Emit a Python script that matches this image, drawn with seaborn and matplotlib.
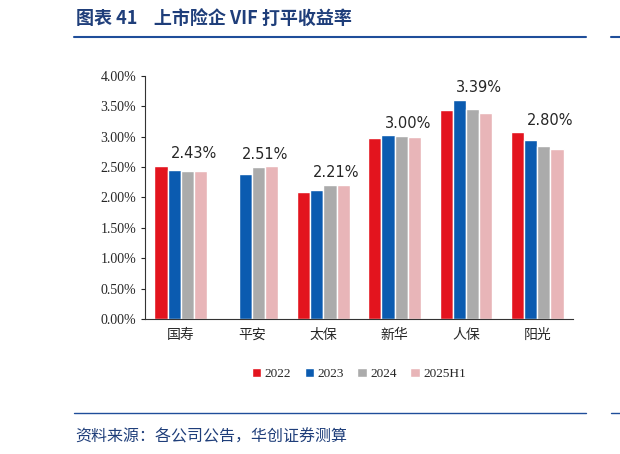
import numpy as np
import pandas as pd
import matplotlib
matplotlib.use("Agg")
import matplotlib.pyplot as plt
import seaborn as sns
from matplotlib.ticker import FuncFormatter

sns.set_style("white")
plt.rcParams['font.family'] = ['Liberation Serif', 'Noto Sans CJK SC']

companies = ["国寿", "平安", "太保", "新华", "人保", "阳光"]
years = ["2022", "2023", "2024", "2025H1"]
v2022 = [2.52, np.nan, 2.09, 2.97, 3.44, 3.07]
v2023 = [2.45, 2.38, 2.12, 3.02, 3.61, 2.95]
v2024 = [2.44, 2.50, 2.20, 3.01, 3.45, 2.85]
v2025 = [2.43, 2.51, 2.21, 3.00, 3.39, 2.80]
colors = ["#E3141E", "#0B5BB0", "#ABABAB", "#E8B5B8"]

rows = []
for y, vals in zip(years, [v2022, v2023, v2024, v2025]):
    for c, v in zip(companies, vals):
        rows.append({"公司": c, "年份": y, "值": v})
df = pd.DataFrame(rows)

fig = plt.figure(figsize=(6.2, 4.54), dpi=100)
ax = fig.add_axes([0.234, 0.297, 0.69, 0.536])
sns.barplot(data=df, x="公司", y="值", hue="年份", palette=colors, ax=ax,
            width=0.74, saturation=1, legend=True)
ax.set_ylim(0, 4.0)
ax.set_yticks(np.arange(0, 4.01, 0.5))
ax.yaxis.set_major_formatter(FuncFormatter(lambda v, p: f"{v:.2f}%"))
ax.set_xlabel("")
ax.set_ylabel("")
ax.tick_params(axis="both", labelsize=10, length=3, direction="out")
ax.tick_params(axis="y", left=True)
for s in ["top", "right"]:
    ax.spines[s].set_visible(False)
for s in ["left", "bottom"]:
    ax.spines[s].set_color("#333333")
for lab in ax.get_xticklabels():
    lab.set_family(["Noto Sans CJK SC"])

# labels above each group, at the 2025H1 bar
last_bars = ax.containers[3]
for i, c in enumerate(companies):
    top = np.nanmax([v2022[i], v2023[i], v2024[i], v2025[i]])
    x = last_bars[i].get_x()
    ax.text(x, top + 0.08, f"{v2025[i]:.2f}%", ha="center", va="bottom",
            fontsize=10.5, family=["DejaVu Sans"])

ax.legend(loc="upper center", bbox_to_anchor=(0.5, -0.15), ncol=4, frameon=False,
          fontsize=9.5, handlelength=0.7, handleheight=0.7, columnspacing=1.0,
          handletextpad=0.3)

fig.text(0.122, 0.945, "图表 41    上市险企 VIF 打平收益率", fontsize=13,
         fontweight="bold", color="#1F3E7A", family=["Noto Sans CJK SC"])
fig.add_artist(plt.Line2D([0.12, 0.945], [0.918, 0.918], color="#1F4E9A", lw=1.5))
fig.add_artist(plt.Line2D([0.985, 1.0], [0.918, 0.918], color="#1F4E9A", lw=1.5))
fig.add_artist(plt.Line2D([0.12, 0.945], [0.09, 0.09], color="#1F4E9A", lw=1.0))
fig.add_artist(plt.Line2D([0.985, 1.0], [0.09, 0.09], color="#1F4E9A", lw=1.0))
fig.text(0.122, 0.028, "资料来源：各公司公告，华创证券测算", fontsize=11.5,
         style="italic", color="#1F3E7A", family=["Noto Sans CJK SC"])

fig.savefig("out.png", dpi=100)
